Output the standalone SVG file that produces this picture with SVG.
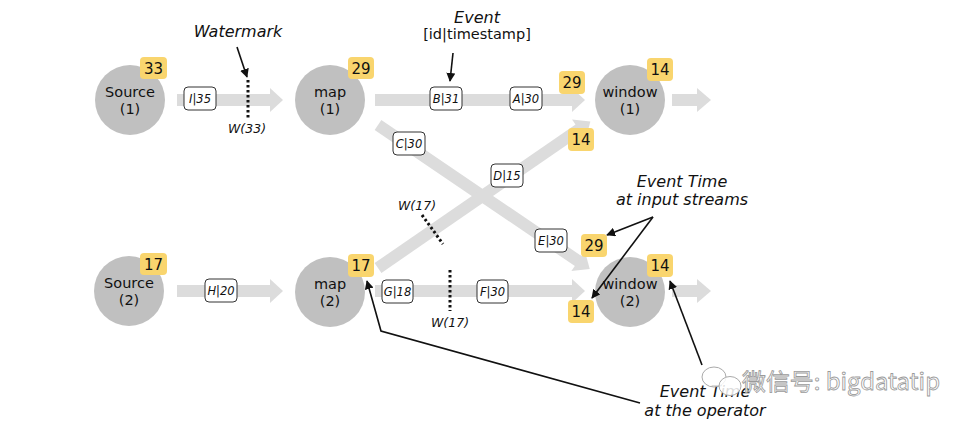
<svg xmlns="http://www.w3.org/2000/svg" width="975" height="427" viewBox="0 0 975 427">
<style>
.bg{fill:#ffffff}
.circ{fill:#c0c0c0}
.shaft{fill:#dcdcdc}
.badge{fill:#f9d56e}
.btxt{font-family:"DejaVu Sans",Verdana,sans-serif;font-size:15px;fill:#111;text-anchor:middle}
.ntxt{font-family:"DejaVu Sans",Verdana,sans-serif;font-size:14.5px;fill:#111;text-anchor:middle}
.lbl{fill:#ffffff;stroke:#333;stroke-width:1}
.ltxt{font-family:"DejaVu Sans",Verdana,sans-serif;font-size:11.5px;font-style:italic;fill:#111;text-anchor:middle}
.wm{fill:none;stroke:#111;stroke-width:3;stroke-dasharray:2.5 2.5}
.wtxt{font-family:"DejaVu Sans",Verdana,sans-serif;font-size:12.5px;font-style:italic;fill:#111;text-anchor:middle}
.ann{font-family:"DejaVu Sans",Verdana,sans-serif;font-size:16px;font-style:italic;fill:#111;text-anchor:middle}
.ann2{font-family:"DejaVu Sans",Verdana,sans-serif;font-size:14.5px;fill:#111;text-anchor:middle}
.pt{fill:none;stroke:#111;stroke-width:1.6}
</style>
<defs>
<marker id="ah" viewBox="0 0 10 10" refX="9" refY="5" markerWidth="9" markerHeight="9" markerUnits="userSpaceOnUse" orient="auto">
<path d="M0,0 L10,5 L0,10 z" fill="#111"/>
</marker>
</defs>
<rect class="bg" x="0" y="0" width="975" height="427"/>

<g id="connectors">
<!-- top row -->
<rect class="shaft" x="177" y="94" width="94" height="12"/>
<polygon class="shaft" points="270,88 283,100 270,112"/>
<rect class="shaft" x="375" y="94" width="198" height="12"/>
<polygon class="shaft" points="572,88 585,100 572,112"/>
<rect class="shaft" x="672" y="94" width="26" height="12"/>
<polygon class="shaft" points="697,88 711,100 697,112"/>
<!-- bottom row -->
<rect class="shaft" x="177" y="285" width="94" height="12"/>
<polygon class="shaft" points="270,279 283,291 270,303"/>
<rect class="shaft" x="375" y="285" width="198" height="12"/>
<polygon class="shaft" points="572,279 585,291 572,303"/>
<rect class="shaft" x="672" y="285" width="26" height="12"/>
<polygon class="shaft" points="697,279 711,291 697,303"/>
<!-- diagonal C/E: map1 -> window2 -->
<g transform="translate(378,125) rotate(34.2)">
<rect class="shaft" x="0" y="-6" width="243" height="12"/>
<polygon class="shaft" points="242,-12 256,0 242,12"/>
</g>
<!-- diagonal D: map2 -> window1 -->
<g transform="translate(378,268) rotate(-34.6)">
<rect class="shaft" x="0" y="-6" width="245" height="12"/>
<polygon class="shaft" points="244,-12 258,0 244,12"/>
</g>

<!-- event labels -->
<rect class="lbl" x="184" y="87" width="32" height="23" rx="4"/><text class="ltxt" x="200" y="103">I|35</text>
<rect class="lbl" x="430" y="87" width="32" height="23" rx="4"/><text class="ltxt" x="446" y="103">B|31</text>
<rect class="lbl" x="510" y="87" width="32" height="23" rx="4"/><text class="ltxt" x="526" y="103">A|30</text>
<rect class="lbl" x="393" y="132" width="32" height="23" rx="4"/><text class="ltxt" x="409" y="148">C|30</text>
<rect class="lbl" x="491" y="164" width="32" height="23" rx="4"/><text class="ltxt" x="507" y="180">D|15</text>
<rect class="lbl" x="535" y="229" width="32" height="23" rx="4"/><text class="ltxt" x="551" y="245">E|30</text>
<rect class="lbl" x="205" y="279" width="32" height="23" rx="4"/><text class="ltxt" x="221" y="295">H|20</text>
<rect class="lbl" x="382" y="280" width="31" height="23" rx="4"/><text class="ltxt" x="397.5" y="296">G|18</text>
<rect class="lbl" x="477" y="280" width="31" height="23" rx="4"/><text class="ltxt" x="492.5" y="296">F|30</text>

<!-- watermarks -->
<line class="wm" x1="248" y1="80" x2="248" y2="120"/>
<text class="wtxt" x="247" y="133">W(33)</text>
<line class="wm" x1="422" y1="215" x2="443" y2="244"/>
<text class="wtxt" x="417" y="210">W(17)</text>
<line class="wm" x1="450" y1="270" x2="450" y2="311"/>
<text class="wtxt" x="450" y="327">W(17)</text>
</g>

<g id="source1">
<circle class="circ" cx="130" cy="100" r="35"/>
<text class="ntxt" x="130" y="97">Source</text>
<text class="ntxt" x="130" y="114">(1)</text>
<rect class="badge" x="140" y="57" width="27" height="22" rx="4"/>
<text class="btxt" x="153.5" y="74">33</text>
</g>
<g id="map1">
<circle class="circ" cx="330" cy="100" r="35"/>
<text class="ntxt" x="330" y="97">map</text>
<text class="ntxt" x="330" y="114">(1)</text>
<rect class="badge" x="348" y="57" width="26" height="22" rx="4"/>
<text class="btxt" x="361" y="74">29</text>
</g>
<g id="window1">
<circle class="circ" cx="630" cy="100" r="35"/>
<text class="ntxt" x="630" y="97">window</text>
<text class="ntxt" x="630" y="114">(1)</text>
<rect class="badge" x="647" y="58" width="26" height="23" rx="4"/>
<text class="btxt" x="660" y="75">14</text>
<rect class="badge" x="559" y="71" width="26" height="23" rx="4"/>
<text class="btxt" x="572" y="88">29</text>
<rect class="badge" x="568" y="128" width="26" height="23" rx="4"/>
<text class="btxt" x="581" y="145">14</text>
</g>
<g id="source2">
<circle class="circ" cx="129" cy="291" r="35"/>
<text class="ntxt" x="129" y="288">Source</text>
<text class="ntxt" x="129" y="305">(2)</text>
<rect class="badge" x="140" y="253" width="27" height="22" rx="4"/>
<text class="btxt" x="153.5" y="270">17</text>
</g>
<g id="map2">
<circle class="circ" cx="330" cy="292" r="35"/>
<text class="ntxt" x="330" y="289">map</text>
<text class="ntxt" x="330" y="306">(2)</text>
<rect class="badge" x="348" y="254" width="26" height="23" rx="4"/>
<text class="btxt" x="361" y="271">17</text>
</g>
<g id="window2">
<circle class="circ" cx="630" cy="292" r="35"/>
<text class="ntxt" x="630" y="289">window</text>
<text class="ntxt" x="630" y="306">(2)</text>
<rect class="badge" x="647" y="254" width="26" height="23" rx="4"/>
<text class="btxt" x="660" y="271">14</text>
<rect class="badge" x="581" y="234" width="26" height="23" rx="4"/>
<text class="btxt" x="594" y="251">29</text>
<rect class="badge" x="568" y="300" width="26" height="23" rx="4"/>
<text class="btxt" x="581" y="317">14</text>
</g>

<g id="annotations">
<text class="ann" x="238" y="37">Watermark</text>
<line class="pt" x1="237" y1="47" x2="247" y2="77" marker-end="url(#ah)"/>
<text class="ann" x="477" y="23">Event</text>
<text class="ann2" x="477" y="39">[id|timestamp]</text>
<line class="pt" x1="453" y1="53" x2="450" y2="81" marker-end="url(#ah)"/>
<text class="ann" x="682" y="187">Event Time</text>
<text class="ann" x="682" y="205">at input streams</text>
<line class="pt" x1="653" y1="217" x2="607" y2="235" marker-end="url(#ah)"/>
<line class="pt" x1="653" y1="217" x2="592" y2="298" marker-end="url(#ah)"/>
<text class="ann" x="705" y="397">Event Time</text>
<text class="ann" x="705" y="416">at the operator</text>
<polyline class="pt" points="640,403 381,331 367,281" marker-end="url(#ah)"/>
<line class="pt" x1="702" y1="365" x2="670" y2="281" marker-end="url(#ah)"/>
</g>

<g id="watermark-logo">
<ellipse cx="714" cy="377" rx="12" ry="10" fill="#ffffff" fill-opacity="0.85" stroke="#aaaaaa" stroke-width="1"/>
<ellipse cx="730" cy="386" rx="11" ry="9.5" fill="#ffffff" fill-opacity="0.85" stroke="#aaaaaa" stroke-width="1"/>
<text x="742" y="390" font-family="'Noto Sans CJK SC','Noto Sans',sans-serif" font-size="23" textLength="198" lengthAdjust="spacingAndGlyphs" fill="#ffffff" stroke="#9a9a9a" stroke-width="0.8">微信号: bigdatatip</text>
</g>
</svg>
